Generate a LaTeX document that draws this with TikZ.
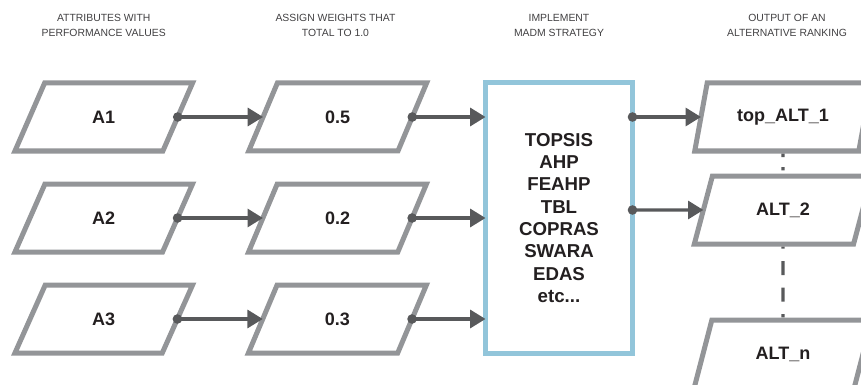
\documentclass[tikz,border=0pt]{standalone}
\usepackage{fontspec}
\setmainfont{Liberation Sans}
\usetikzlibrary{shapes.geometric,arrows.meta,positioning}

\definecolor{shapegray}{HTML}{939598}
\definecolor{linegray}{HTML}{58595B}
\definecolor{boxblue}{HTML}{92C5DA}
\definecolor{textdark}{HTML}{231F20}
\definecolor{headgray}{HTML}{414042}

\tikzset{
  para/.style={trapezium, trapezium left angle=65, trapezium right angle=115,
    trapezium stretches=true, draw=shapegray, line width=3.75pt, fill=white,
    minimum width=133.5pt, minimum height=51pt, inner sep=0pt, outer sep=0pt,
    text=textdark, font=\fontsize{13.5}{15}\selectfont\bfseries},
  method/.style={rectangle, draw=boxblue, line width=3.75pt, fill=white,
    minimum width=110.25pt, minimum height=203.25pt, inner sep=0pt, outer sep=0pt,
    align=center, text=textdark, font=\fontsize{14}{16.75}\selectfont\bfseries},
  head/.style={align=center, text=headgray, font=\fontsize{7.8}{11.25}\selectfont},
  link/.style={draw=linegray, fill=linegray, line width=2.3pt,
    {Circle[length=7pt]}-{Triangle[length=11.5pt,width=13.5pt]}, shorten <=-3.5pt},
  gap/.style={draw=linegray, line width=2.6pt, shorten <=1.9pt, shorten >=1.9pt},
}

\begin{document}
\begin{tikzpicture}[x=0.75pt, y=-0.75pt]
\clip (0,0) rectangle (861,385);

% headers
\node[head] (h1) at (103.75,25.5) {ATTRIBUTES WITH\\PERFORMANCE VALUES};
\node[head] (h2) at (335.5,25.5) {ASSIGN WEIGHTS THAT\\TOTAL TO 1.0};
\node[head] (h3) at (559,25.5) {IMPLEMENT\\MADM STRATEGY};
\node[head] (h4) at (787,25.5) {OUTPUT OF AN\\ALTERNATIVE RANKING};

% attributes and weights
\node[para] (a1) at (103.75,117) {A1};
\node[para] (a2) at (103.75,218) {A2};
\node[para] (a3) at (103.75,319) {A3};

\node[para, right=64pt of a1] (w1) {0.5};
\node[para, right=64pt of a2] (w2) {0.2};
\node[para, right=64pt of a3] (w3) {0.3};

\node[method] (madm) at (559,218) {TOPSIS\\AHP\\FEAHP\\TBL\\COPRAS\\SWARA\\EDAS\\etc...};

% ranking
\node[para] (o1) at (783,117) {top\_ALT\_1};
\node[para] (o2) at (783,210) {ALT\_2};
\node[para] (on) at (783,354) {ALT\_n};

\draw[link] (a1.east) -- (w1.west);
\draw[link] (a2.east) -- (w2.west);
\draw[link] (a3.east) -- (w3.west);

\draw[link] (w1.east) -- (w1.east -| madm.west);
\draw[link] (w2.east) -- (w2.east -| madm.west);
\draw[link] (w3.east) -- (w3.east -| madm.west);

\draw[link] (madm.east |- o1) -- (o1.west);
\draw[link] (madm.east |- o2) -- (o2.west);

\draw[gap, dash pattern=on 2.6pt off 7.5pt] (o1.south) -- (o2.north);
\draw[gap, dash pattern=on 10.5pt off 9.4pt, dash phase=9pt] (o2.south) -- (on.north);
\end{tikzpicture}
\end{document}
